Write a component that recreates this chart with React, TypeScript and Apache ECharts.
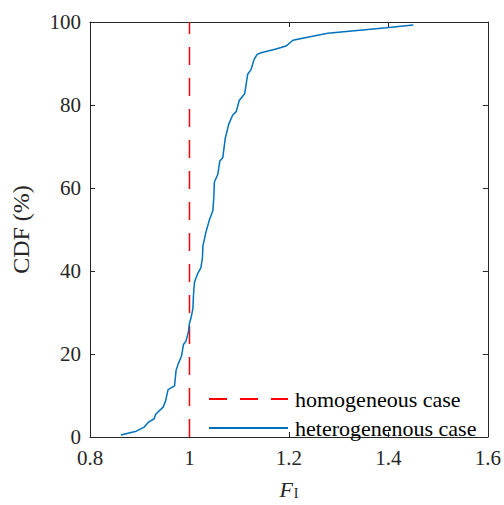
import React, { useEffect, useRef } from "react";
import * as echarts from "echarts";

const cdfX = [0.862, 0.893, 0.909, 0.917, 0.929, 0.932, 0.947, 0.952, 0.957, 0.970, 0.973, 0.977, 0.984, 0.988, 0.993, 0.998, 1.000, 1.003, 1.007, 1.008, 1.010, 1.017, 1.023, 1.026, 1.027, 1.033, 1.040, 1.047, 1.049, 1.050, 1.057, 1.061, 1.067, 1.072, 1.079, 1.087, 1.094, 1.100, 1.111, 1.117, 1.124, 1.130, 1.136, 1.144, 1.174, 1.194, 1.202, 1.208, 1.240, 1.278, 1.396, 1.450];
const cdfY = [0.5, 1.4, 2.4, 3.5, 4.4, 5.5, 7.2, 8.7, 11.4, 12.3, 16.0, 17.5, 19.5, 22.3, 23.1, 25.4, 27.4, 28.6, 31.0, 34.1, 37.3, 39.5, 40.8, 43.1, 46.0, 49.3, 52.3, 54.5, 57.8, 61.4, 63.3, 66.5, 67.3, 72.0, 75.4, 77.6, 78.4, 81.1, 82.7, 87.4, 88.6, 91.0, 92.2, 92.6, 93.5, 94.2, 95.0, 95.6, 96.4, 97.3, 98.6, 99.3];
const homX = [1, 1];
const homY = [0, 100];
const xTicks = [0.8, 1, 1.2, 1.4, 1.6];
const yTicks = [0, 20, 40, 60, 80, 100];
const seriesNames = ["homogeneous case", "heterogenenous case"];

const FONT = "'Liberation Serif', 'Times New Roman', serif";
const AX = "#262626";

export default function App() {
  const ref = useRef<HTMLDivElement>(null);
  useEffect(() => {
    if (!ref.current) return;
    const chart = echarts.init(ref.current, undefined, { renderer: "svg" });
    const fmtX = (v: number) => String(Number(v.toFixed(1)));
    const baseX = {
      type: "value" as const,
      min: xTicks[0],
      max: xTicks[xTicks.length - 1],
      interval: 0.2,
      splitLine: { show: false },
      axisLine: { show: true, onZero: false, lineStyle: { color: AX, width: 1 } },
      axisTick: { show: true, inside: true, length: 5, lineStyle: { color: AX } },
    };
    const baseY = {
      type: "value" as const,
      min: yTicks[0],
      max: yTicks[yTicks.length - 1],
      interval: 20,
      splitLine: { show: false },
      axisLine: { show: true, onZero: false, lineStyle: { color: AX, width: 1 } },
      axisTick: { show: true, inside: true, length: 5, lineStyle: { color: AX } },
    };
    chart.setOption({
      animation: false,
      backgroundColor: "#ffffff",
      textStyle: { fontFamily: FONT },
      grid: { left: 90, right: 14, top: 22, bottom: 61, containLabel: false },
      xAxis: [
        {
          ...baseX,
          position: "bottom",
          axisLabel: { formatter: fmtX, color: "#262626", fontSize: 21, fontFamily: FONT, margin: 10 },
          name: "{f|F}{s|I}",
          nameLocation: "middle",
          nameGap: 41,
          nameTextStyle: {
            rich: {
              f: { fontFamily: FONT, fontStyle: "italic", fontSize: 22, color: "#262626" },
              s: { fontFamily: FONT, fontSize: 14, color: "#262626", verticalAlign: "bottom", padding: [8, 0, 0, 1] },
            },
          },
        },
        { ...baseX, position: "top", axisLabel: { show: false } },
      ],
      yAxis: [
        {
          ...baseY,
          position: "left",
          axisLabel: { color: "#262626", fontSize: 21, fontFamily: FONT, margin: 9 },
          name: "CDF (%)",
          nameLocation: "middle",
          nameGap: 57,
          nameTextStyle: { color: "#262626", fontSize: 24, fontFamily: FONT },
        },
        { ...baseY, position: "right", axisLabel: { show: false } },
      ],
      legend: {
        orient: "vertical",
        left: 208,
        top: 388,
        padding: 0,
        itemWidth: 79,
        itemHeight: 20,
        itemGap: 7,
        data: seriesNames,
        itemStyle: { opacity: 0 },
        textStyle: { fontFamily: FONT, fontSize: 22, color: "#000000", padding: [0, 0, 0, 2] },
      },
      series: [
        {
          name: seriesNames[0],
          type: "line",
          symbol: "none",
          data: homX.map((x, i) => [x, homY[i]]),
          lineStyle: { color: "#ff0000", width: 1.5, type: [18, 13] },
          itemStyle: { color: "#ff0000" },
        },
        {
          name: seriesNames[1],
          type: "line",
          symbol: "none",
          data: cdfX.map((x, i) => [x, cdfY[i]]),
          lineStyle: { color: "#0072BD", width: 1.5 },
          itemStyle: { color: "#0072BD" },
        },
      ],
    });
    return () => chart.dispose();
  }, []);
  return <div ref={ref} style={{ width: 504, height: 505, position: "absolute", left: 0, top: 0 }} />;
}
